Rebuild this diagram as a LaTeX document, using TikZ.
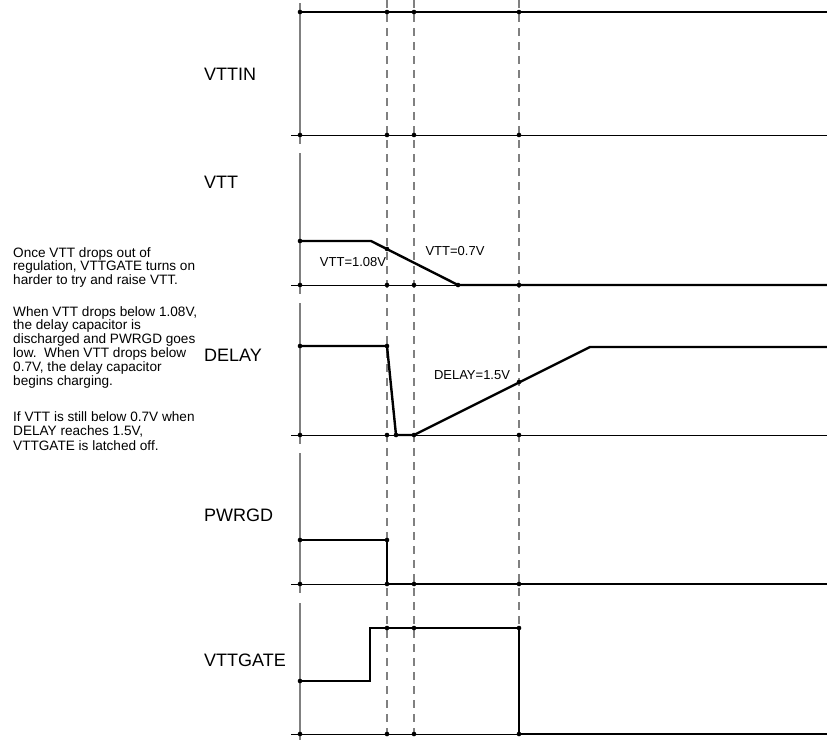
\documentclass[tikz,border=0pt]{standalone}
\usepackage{fontspec}
\setmainfont{Liberation Sans}
\begin{document}
\begin{tikzpicture}[x=1pt,y=-1pt,
  axisseg/.style={draw=black!50, line width=1.4pt},
  guide/.style={draw=black!50, line width=1.1pt, dash pattern=on 8pt off 6pt},
  zeroline/.style={draw=black, line width=0.9pt},
  sig/.style={draw=black, line width=2.4pt, line join=miter},
  lbl/.style={font=\fontsize{18}{20}\selectfont, anchor=base west, inner sep=0pt},
  note/.style={font=\fontsize{13.6}{15}\selectfont, anchor=base west, inner sep=0pt},
  val/.style={font=\fontsize{13}{15}\selectfont, inner sep=0pt}]
\useasboundingbox (0,0) rectangle (827,740);

% guide lines
\foreach \x in {387,414,519} \draw[guide] (\x,0) -- (\x,740);
% axis segments
\foreach \a/\b in {3/144,153/294,303/444,453/593,603/740} \draw[axisseg] (300,\a) -- (300,\b);
% zero lines
\foreach \y in {135,285,435,584,734} \draw[zeroline] (291,\y) -- (827,\y);

% signals
\draw[sig] (300,12) -- (827,12);
\draw[sig] (300,241) -- (371,241) -- (458,285) -- (827,285);
\draw[sig] (300,346) -- (387,346) -- (396,435) -- (414,435) -- (590,347) -- (827,347);
\draw[sig] (300,540) -- (387,540) -- (387,584) -- (827,584);
\draw[sig] (300,681) -- (370,681) -- (370,628) -- (519,628) -- (519,734) -- (827,734);

% dots
\foreach \p in {(300,12),(387,12),(414,12),(519,12),
  (300,135),(387,135),(414,135),(519,135),
  (300,241),(387,249),(300,285),(387,285),(414,285),(458,285),(519,285),
  (300,346),(387,346),(396,435),(414,435),(519,382),(300,435),(387,435),(519,435),
  (300,540),(387,540),(300,584),(387,584),(414,584),(519,584),
  (300,681),(387,628),(414,628),(519,628),(300,734),(387,734),(414,734),(519,734)}
  \fill \p circle (2.3pt);

% signal names
\node[lbl] (nvttin) at (204,80.5) {VTTIN};
\node[lbl] (nvtt) at (204,188.5) {VTT};
\node[lbl] (ndelay) at (204,361.5) {DELAY};
\node[lbl] (npwrgd) at (204,521.5) {PWRGD};
\node[lbl] (nvttgate) at (204,666) {VTTGATE};

% value labels
\node[val] (v108) at (353,262) {VTT=1.08V};
\node[val] (v07) at (455,251) {VTT=0.7V};
\node[val] (d15) at (472,375) {DELAY=1.5V};

% notes
\node[note] (t1) at (13,257) {Once VTT drops out of};
\node[note] (t2) at (13,270.5) {regulation, VTTGATE turns on};
\node[note] (t3) at (13,284) {harder to try and raise VTT.};
\node[note] (t4) at (13,316) {When VTT drops below 1.08V,};
\node[note] (t5) at (13,329.5) {the delay capacitor is};
\node[note] (t6) at (13,343) {discharged and PWRGD goes};
\node[note] (t7) at (13,357.5) {low.\ \ When VTT drops below};
\node[note] (t8) at (13,371.5) {0.7V, the delay capacitor};
\node[note] (t9) at (13,385.5) {begins charging.};
\node[note] (t10) at (13,421) {If VTT is still below 0.7V when};
\node[note] (t11) at (13,435.5) {DELAY reaches 1.5V,};
\node[note] (t12) at (13,450) {VTTGATE is latched off.};
\end{tikzpicture}
\end{document}
